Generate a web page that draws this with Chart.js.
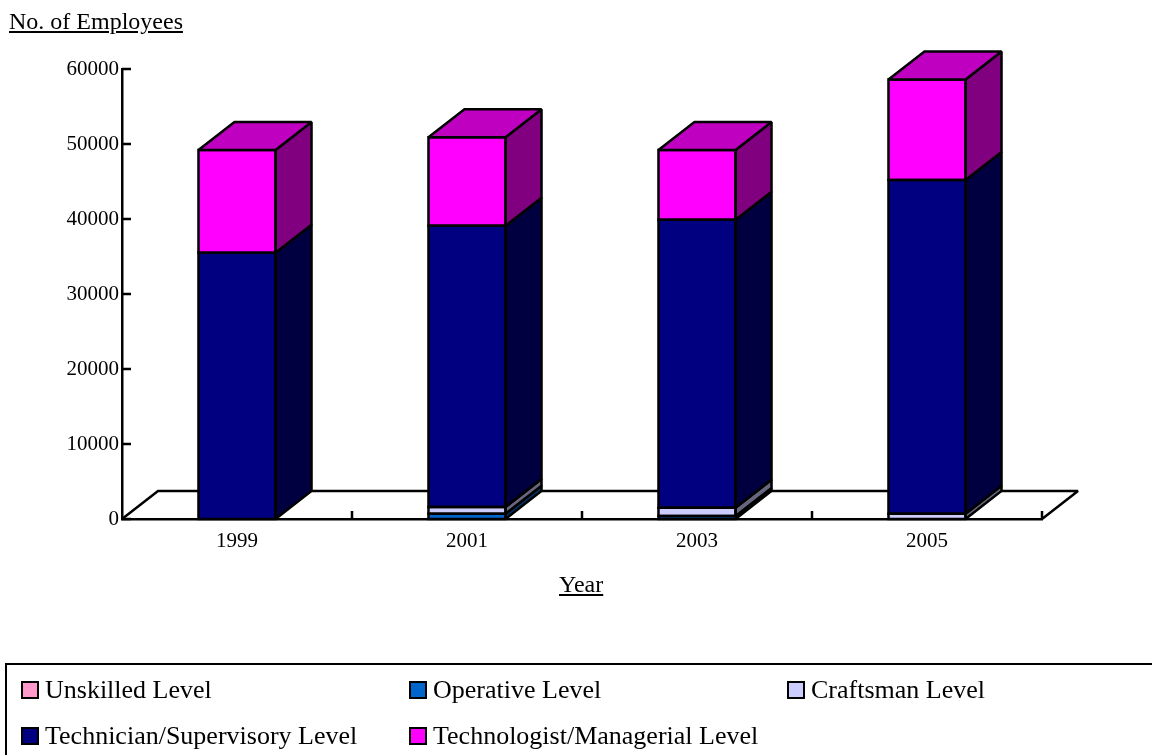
<!DOCTYPE html>
<html>
<head>
<meta charset="utf-8">
<script src="https://cdn.jsdelivr.net/npm/chart.js@4"></script>
<style>
  body { margin: 0; width: 1152px; height: 755px; overflow: hidden; background: #fff; font-family: "Liberation Serif", "Times New Roman", serif; }
  #chart { position: absolute; left: 0; top: 0; }
  .lbl { position: absolute; color: #000; text-decoration: underline; white-space: nowrap; line-height: 24px; font-size: 24px; }
  #legend { position: absolute; left: 5px; top: 663px; width: 1200px; height: 200px; border: 2px solid #000; }
  .item { position: absolute; font-size: 26px; line-height: 26px; white-space: nowrap; }
  .item i { position: absolute; left: 0; top: 4px; width: 14px; height: 14px; border: 2px solid #000; }
  .item span { position: absolute; left: 24px; top: 0; }
</style>
</head>
<body>
<canvas id="chart" width="1152" height="755"></canvas>
<div class="lbl" style="left:9px; top:9px;">No. of Employees</div>
<div class="lbl" style="left:559px; top:572px;">Year</div>
<div id="legend"></div>
<script>
  // categories and series
  const years = ["1999", "2001", "2003", "2005"];
  const seriesNames = [
    "Unskilled Level",
    "Operative Level",
    "Craftsman Level",
    "Technician/Supervisory Level",
    "Technologist/Managerial Level",
  ];
  const unskilled = [0, 0, 0, 0];
  const operative = [0, 700, 400, 0];
  const craftsman = [0, 900, 1100, 700];
  const technician = [35500, 37500, 38400, 44500];
  const technologist = [13700, 11800, 9300, 13400];
  const yTicks = [0, 10000, 20000, 30000, 40000, 50000, 60000];

  // colours: front, side, top
  const fronts = ["#FF99CC", "#0066CC", "#CCCCFF", "#000080", "#FF00FF"];
  const sides = ["#804C66", "#003366", "#666680", "#000040", "#800080"];
  const tops = ["#C073A0", "#004C99", "#9999C0", "#000060", "#C000C0"];

  const values = [unskilled, operative, craftsman, technician, technologist];
  const dx = 36;
  const dy = -28;

  // floor, inward tick marks, and the 3D faces of every bar segment
  const bar3d = {
    id: "bar3d",
    beforeDatasetsDraw(chart) {
      const { ctx, chartArea: a } = chart;
      const xs = chart.scales.x;
      const ys = chart.scales.y;
      ctx.save();
      ctx.strokeStyle = "#000";
      ctx.lineWidth = 2.5;
      ctx.lineJoin = "miter";
      ctx.miterLimit = 2;
      ctx.beginPath();
      ctx.moveTo(a.left, a.bottom);
      ctx.lineTo(a.left + dx, a.bottom + dy);
      ctx.lineTo(a.right + dx, a.bottom + dy);
      ctx.lineTo(a.right, a.bottom);
      ctx.stroke();

      const half = (xs.getPixelForValue(1) - xs.getPixelForValue(0)) / 2;
      ctx.beginPath();
      years.forEach((y, i) => {
        const bx = Math.round(xs.getPixelForValue(i) + half);
        ctx.moveTo(bx, a.bottom);
        ctx.lineTo(bx, a.bottom - 8);
      });
      ys.ticks.forEach((t) => {
        const py = Math.round(ys.getPixelForValue(t.value));
        ctx.moveTo(a.left, py);
        ctx.lineTo(a.left + 9, py);
      });
      ctx.stroke();
      ctx.restore();
    },
    afterDatasetsDraw(chart) {
      const ctx = chart.ctx;
      ctx.save();
      ctx.strokeStyle = "#000";
      ctx.lineWidth = 2.5;
      ctx.lineJoin = "miter";
      ctx.miterLimit = 2;
      years.forEach((year, j) => {
        let last = null;
        values.forEach((vals, i) => {
          if (!vals[j]) return;
          const el = chart.getDatasetMeta(i).data[j];
          const x0 = el.x - el.width / 2;
          const x1 = el.x + el.width / 2;
          const yt = el.y;
          const yb = el.base;
          // side face
          ctx.beginPath();
          ctx.moveTo(x1, yb);
          ctx.lineTo(x1 + dx, yb + dy);
          ctx.lineTo(x1 + dx, yt + dy);
          ctx.lineTo(x1, yt);
          ctx.closePath();
          ctx.fillStyle = sides[i];
          ctx.fill();
          ctx.stroke();
          // front outline
          ctx.strokeRect(x0, yt, x1 - x0, yb - yt);
          last = { i, x0, x1, yt };
        });
        if (last) {
          ctx.beginPath();
          ctx.moveTo(last.x0, last.yt);
          ctx.lineTo(last.x1, last.yt);
          ctx.lineTo(last.x1 + dx, last.yt + dy);
          ctx.lineTo(last.x0 + dx, last.yt + dy);
          ctx.closePath();
          ctx.fillStyle = tops[last.i];
          ctx.fill();
          ctx.stroke();
        }
      });
      ctx.restore();
    },
  };

  const serif = "'Liberation Serif', 'Times New Roman', serif";

  new Chart(document.getElementById("chart"), {
    type: "bar",
    data: {
      labels: years,
      datasets: seriesNames.map((name, i) => ({
        label: name,
        data: values[i],
        backgroundColor: fronts[i],
        borderWidth: 0,
        categoryPercentage: 1,
        barPercentage: 0.335,
      })),
    },
    options: {
      responsive: false,
      animation: false,
      layout: { padding: { top: 69, right: 110, bottom: 196, left: 0 } },
      plugins: { legend: { display: false }, tooltip: { enabled: false } },
      scales: {
        x: {
          stacked: true,
          grid: { display: false },
          border: { display: true, color: "#000", width: 2.5 },
          ticks: { color: "#000", font: { family: serif, size: 21 }, padding: 2 },
          afterFit(s) { s.height = 40; },
        },
        y: {
          stacked: true,
          min: 0,
          max: 60000,
          afterBuildTicks(s) { s.ticks = yTicks.map((v) => ({ value: v })); },
          grid: { display: false, tickLength: 0 },
          border: { display: true, color: "#000", width: 2.5 },
          ticks: {
            color: "#000",
            font: { family: serif, size: 21 },
            padding: 3,
            callback: (v) => String(v),
          },
          afterFit(s) { s.width = 122; },
        },
      },
    },
    plugins: [bar3d],
  });

  // legend laid out in three columns like the original
  const legend = document.getElementById("legend");
  const cols = [14, 402, 780];
  seriesNames.forEach((name, i) => {
    const item = document.createElement("div");
    item.className = "item";
    item.style.left = cols[i % 3] + "px";
    item.style.top = (i < 3 ? 12 : 58) + "px";
    const sw = document.createElement("i");
    sw.style.background = fronts[i];
    const txt = document.createElement("span");
    txt.textContent = name;
    item.appendChild(sw);
    item.appendChild(txt);
    legend.appendChild(item);
  });
</script>
</body>
</html>
